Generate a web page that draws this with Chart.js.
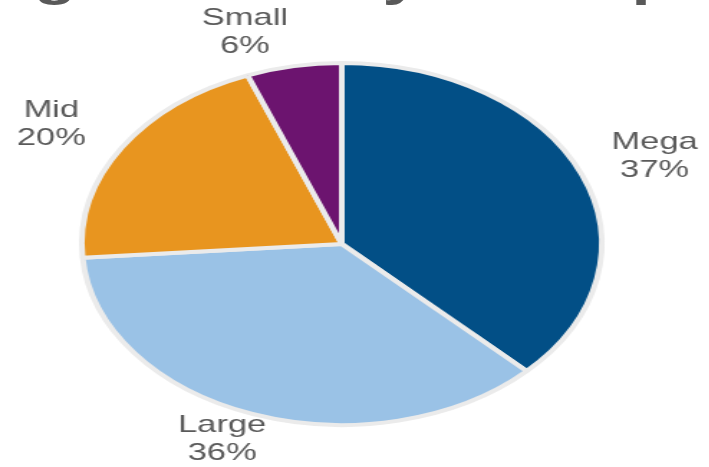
<!DOCTYPE html>
<html>
<head>
  <title>Pool Layout Exposure</title>
  <style>
    html, body { margin: 0; padding: 0; background: #fff; overflow: hidden; }
    /* the reference is stretched sideways, so draw narrow and scale up */
    #wrap {
      position: absolute; left: 0; top: 0;
      width: 494px; height: 467px;
      transform: scaleX(1.436); transform-origin: 0 0;
      overflow: hidden;
    }
    #title {
      position: absolute; left: -108px; top: -45px;
      white-space: nowrap;
      font: bold 48px/48px "Liberation Sans", Arial, sans-serif;
      color: #595959;
    }
    canvas { position: absolute; left: 0; top: 0; }
  </style>
</head>
<body>
  <div id="wrap">
    <div id="title">Average Pool Layout Exposure</div>
    <canvas id="pie" width="494" height="467"></canvas>
  </div>

  <script src="https://cdn.jsdelivr.net/npm/chart.js"></script>
  <script>
    const segments = ["Mega", "Large", "Mid", "Small"];
    const shares = [37.4, 36.4, 20.3, 5.9];
    const shareLabels = ["37%", "36%", "20%", "6%"];
    const colours = ["#024f86", "#9ac2e6", "#e8951f", "#6c146f"];

    // where each label sits: distance as a multiple of the radius, angle nudge in degrees
    const labelPlace = [
      { dist: 1.30, turn: 0.5 },
      { dist: 1.17, turn: 3 },
      { dist: 1.30, turn: -1.5 },
      { dist: 1.23, turn: -7 }
    ];

    const outsideLabels = {
      id: "outsideLabels",
      afterDatasetsDraw(chart) {
        const ctx = chart.ctx;
        const arcs = chart.getDatasetMeta(0).data;
        ctx.save();
        ctx.font = "24px 'Liberation Sans', Arial, sans-serif";
        ctx.fillStyle = "#5a5a5a";
        ctx.textAlign = "center";
        ctx.textBaseline = "middle";
        arcs.forEach((arc, i) => {
          const p = labelPlace[i];
          const mid = (arc.startAngle + arc.endAngle) / 2 + p.turn * Math.PI / 180;
          const r = arc.outerRadius * p.dist;
          const x = arc.x + Math.cos(mid) * r;
          const y = arc.y + Math.sin(mid) * r;
          ctx.fillText(segments[i], x, y - 13);
          ctx.fillText(shareLabels[i], x, y + 15);
        });
        ctx.restore();
      }
    };

    new Chart(document.getElementById("pie"), {
      type: "pie",
      data: {
        labels: segments,
        datasets: [{
          data: shares,
          backgroundColor: colours,
          borderColor: "#ebebeb",
          borderWidth: 4
        }]
      },
      options: {
        responsive: false,
        animation: false,
        radius: 181,
        layout: { padding: { left: 40, right: 58, top: 40, bottom: 19 } },
        plugins: {
          legend: { display: false },
          tooltip: { enabled: false }
        }
      },
      plugins: [outsideLabels]
    });
  </script>
</body>
</html>
